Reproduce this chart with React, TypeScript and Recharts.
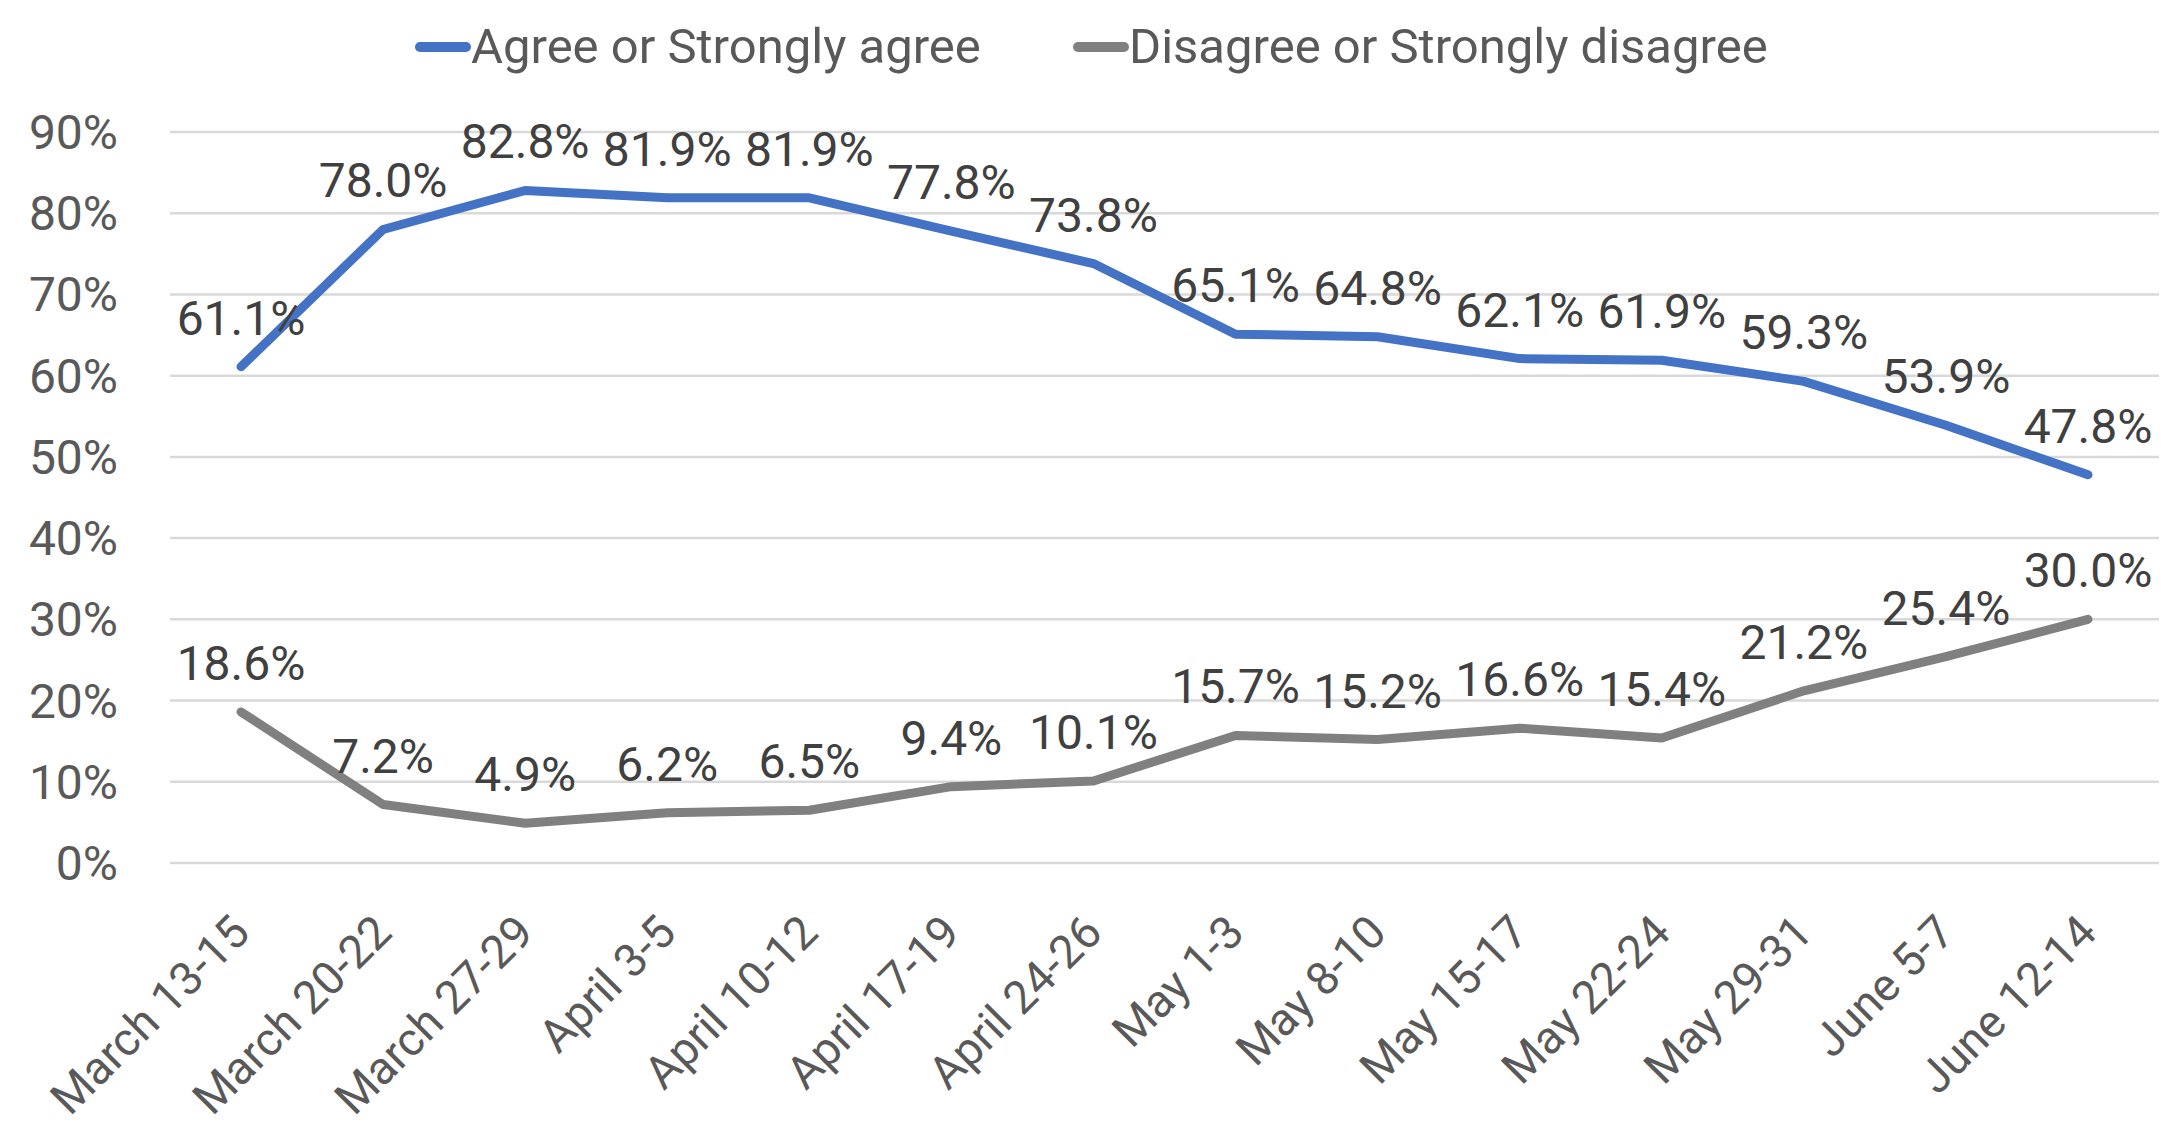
import { LineChart, Line, XAxis, YAxis, CartesianGrid, LabelList } from "recharts";

const WEEKS = [
  "March 13-15",
  "March 20-22",
  "March 27-29",
  "April 3-5",
  "April 10-12",
  "April 17-19",
  "April 24-26",
  "May 1-3",
  "May 8-10",
  "May 15-17",
  "May 22-24",
  "May 29-31",
  "June 5-7",
  "June 12-14",
];
const AGREE = [61.1, 78.0, 82.8, 81.9, 81.9, 77.8, 73.8, 65.1, 64.8, 62.1, 61.9, 59.3, 53.9, 47.8];
const DISAGREE = [18.6, 7.2, 4.9, 6.2, 6.5, 9.4, 10.1, 15.7, 15.2, 16.6, 15.4, 21.2, 25.4, 30.0];
const Y_TICKS = [0, 10, 20, 30, 40, 50, 60, 70, 80, 90];

const COLORS = { agree: "#4472c4", disagree: "#808080" };
const FONT = "Roboto, 'Noto Sans', sans-serif";

const data = WEEKS.map((week, i) => ({
  week,
  agree: AGREE[i],
  disagree: DISAGREE[i],
}));

const fmt = (v: number) => `${v.toFixed(1)}%`;

const XTick = ({ x, y, payload }: any) => (
  <g transform={`translate(${x + 11},${y + 72})`}>
    <text
      transform="rotate(-45)"
      textAnchor="end"
      fill="#595959"
      fontSize={46}
      fontFamily={FONT}
    >
      {payload.value}
    </text>
  </g>
);

const LegendItem = ({ color, label, left }: { color: string; label: string; left: number }) => (
  <div
    style={{
      position: "absolute",
      left,
      top: 20,
      display: "flex",
      alignItems: "center",
      fontFamily: FONT,
      fontSize: 49,
      color: "#595959",
      lineHeight: "54px",
      whiteSpace: "nowrap",
    }}
  >
    <span
      style={{
        display: "inline-block",
        width: 56,
        height: 10,
        borderRadius: 5,
        background: color,
      }}
    />
    {label}
  </div>
);

export default function App() {
  return (
    <div style={{ position: "relative", width: 2161, height: 1133, background: "#fff" }}>
      <style>{"body{margin:0}"}</style>
      <LegendItem color={COLORS.agree} label="Agree or Strongly agree" left={415} />
      <LegendItem color={COLORS.disagree} label="Disagree or Strongly disagree" left={1073} />
      <LineChart
        width={2161}
        height={1133}
        data={data}
        margin={{ top: 132, right: 2, left: 0, bottom: 0 }}
      >
        <CartesianGrid vertical={false} stroke="#d9d9d9" strokeWidth={2.5} />
        <XAxis
          dataKey="week"
          interval={0}
          height={270}
          axisLine={false}
          tickLine={false}
          tickSize={0}
          tickMargin={0}
          padding={{ left: 71, right: 71 }}
          tick={<XTick />}
        />
        <YAxis
          domain={[0, 90]}
          ticks={Y_TICKS}
          width={170}
          axisLine={false}
          tickLine={false}
          tickSize={0}
          tickMargin={52}
          tickFormatter={(v) => `${v}%`}
          tick={{ fill: "#595959", fontSize: 48, fontFamily: FONT }}
        />
        <Line
          type="linear"
          dataKey="agree"
          stroke={COLORS.agree}
          strokeWidth={9}
          strokeLinejoin="round"
          strokeLinecap="round"
          dot={false}
          isAnimationActive={false}
        >
          <LabelList
            dataKey="agree"
            position="top"
            offset={32}
            formatter={(v: any) => fmt(Number(v))}
            style={{ fill: "#404040", fontSize: 48, fontFamily: FONT }}
          />
        </Line>
        <Line
          type="linear"
          dataKey="disagree"
          stroke={COLORS.disagree}
          strokeWidth={9}
          strokeLinejoin="round"
          strokeLinecap="round"
          dot={false}
          isAnimationActive={false}
        >
          <LabelList
            dataKey="disagree"
            position="top"
            offset={32}
            formatter={(v: any) => fmt(Number(v))}
            style={{ fill: "#404040", fontSize: 48, fontFamily: FONT }}
          />
        </Line>
      </LineChart>
    </div>
  );
}
